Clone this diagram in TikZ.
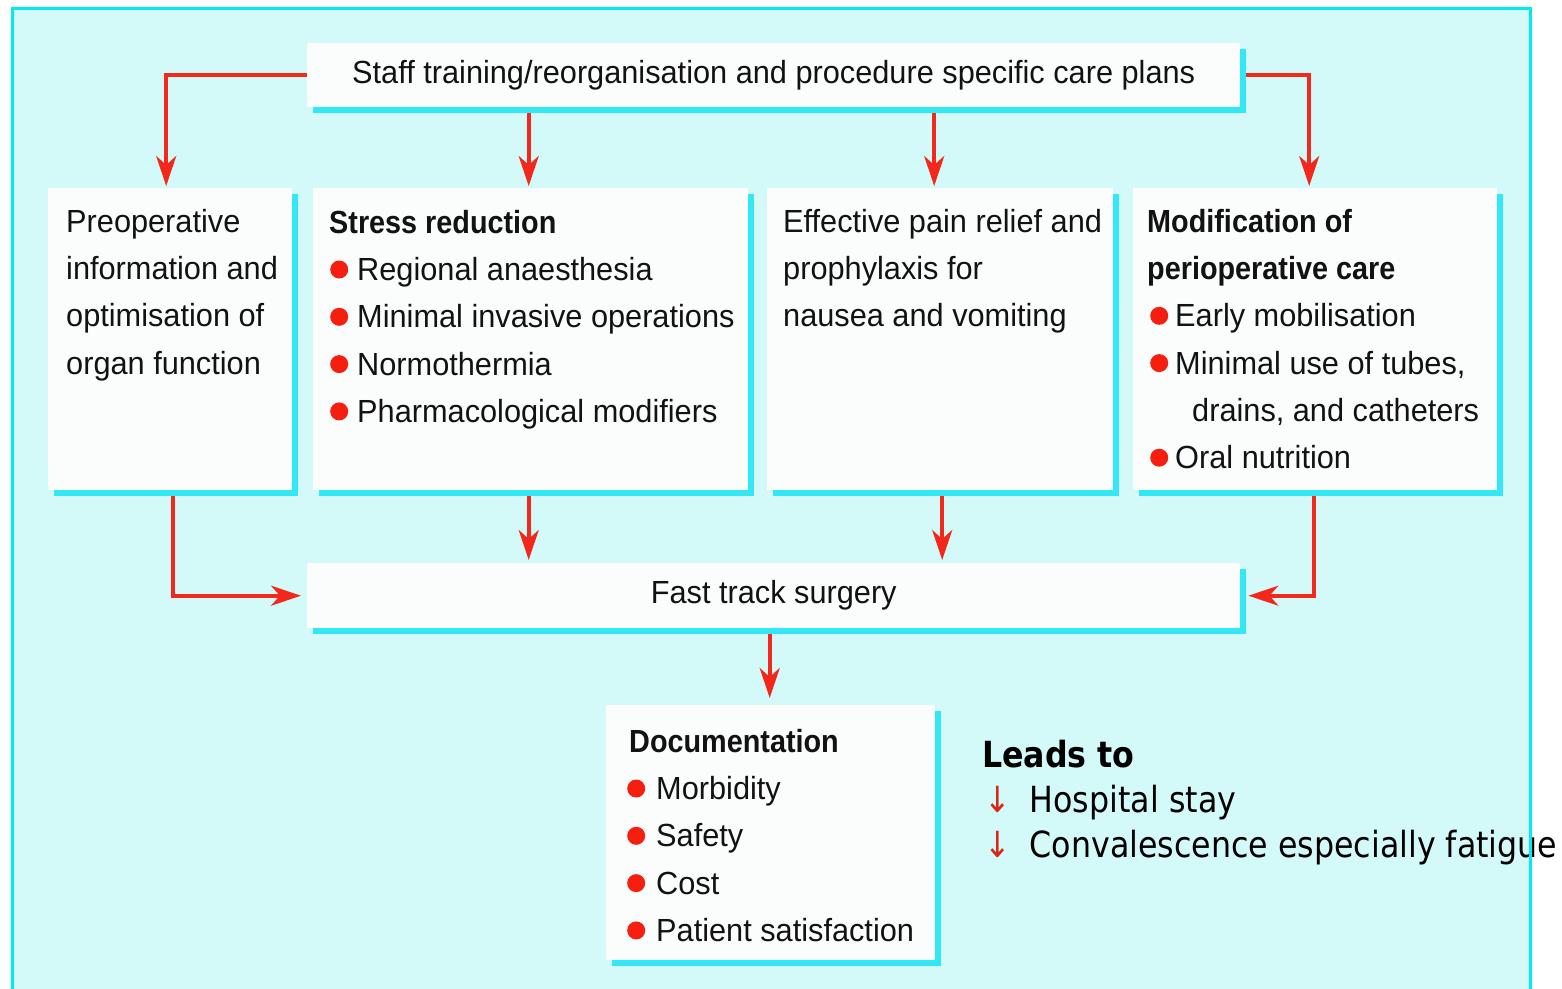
\documentclass[tikz,border=0pt]{standalone}
\usepackage{fontspec}
\setmainfont{Liberation Sans}[FakeStretch=0.96]
\newfontfamily\headfont{Liberation Sans}[FakeStretch=0.9]
\newfontfamily\notefont{DejaVu Sans}[FakeStretch=0.88]
\usetikzlibrary{arrows.meta,shadows}

\pgfdeclarelayer{back}
\pgfdeclarelayer{wires}
\pgfsetlayers{back,wires,main}

\definecolor{panelfill}{RGB}{211,249,249}
\definecolor{panelline}{RGB}{0,236,240}
\definecolor{boxfill}{RGB}{251,253,252}
\definecolor{shadowc}{RGB}{50,232,244}
\definecolor{flowred}{RGB}{242,40,28}
\definecolor{dotred}{RGB}{245,30,15}
\definecolor{downred}{RGB}{215,40,20}
\definecolor{inkc}{RGB}{18,18,18}

% red round bullet followed by a fixed gap
\newcommand\bul[1][27pt]{\makebox[#1][l]{\tikz[baseline={(0pt,-11pt)}]\fill[dotred] (0pt,0pt) circle (9pt);}}
% strut fixing the first baseline 34pt below the top of a text block
\newcommand\fst{\rule{0pt}{34pt}}

\begin{document}
\begin{tikzpicture}[x=1pt,y=-1pt,
  box/.style={rectangle, fill=boxfill, draw=none, inner sep=0pt, anchor=north west,
    general shadow={fill=shadowc, shadow xshift=6pt, shadow yshift=-6pt}},
  bar/.style={box, text=inkc, font=\fontsize{32}{47.3}\selectfont},
  txt/.style={inner sep=0pt, anchor=north west, align=left, text=inkc,
    font=\fontsize{32}{47.3}\selectfont},
  note/.style={inner sep=0pt, anchor=north west, align=left, text=black,
    font=\notefont\fontsize{36}{45}\selectfont},
  arr/.style={draw=flowred, line width=3.6pt,
    -{Stealth[length=30pt,width=20pt,inset=9pt]}, shorten >=2pt}]

\useasboundingbox (0,0) rectangle (1562,988);
\clip (0,0) rectangle (1562,988);

\begin{pgfonlayer}{back}
  \fill[white] (0,0) rectangle (1562,988);
  \fill[panelfill] (12,8) rectangle (1530,1000);
\end{pgfonlayer}

% boxes
\node[bar, minimum width=933pt, minimum height=64pt] (top) at (307,43)
  {\raisebox{-3pt}{Staff training/reorganisation and procedure specific care plans}};
\node[box, minimum width=244pt, minimum height=302pt] (pre) at (48,188) {};
\node[box, minimum width=435pt, minimum height=302pt] (stress) at (313,188) {};
\node[box, minimum width=346pt, minimum height=302pt] (pain) at (767,188) {};
\node[box, minimum width=364pt, minimum height=302pt] (modif) at (1133,188) {};
\node[bar, minimum width=933pt, minimum height=65pt] (fast) at (307,563)
  {\raisebox{-3pt}{Fast track surgery}};
\node[box, minimum width=329pt, minimum height=255pt] (doc) at (606,705) {};

% box contents
\node[txt] (pre-t) at (66,198)
  {\fst Preoperative\\information and\\optimisation of\\organ function};
\node[txt] (stress-t) at (329,199)
  {\fst{\headfont\bfseries Stress reduction}\\
   \hspace*{1pt}\bul Regional anaesthesia\\
   \hspace*{1pt}\bul Minimal invasive operations\\
   \hspace*{1pt}\bul Normothermia\\
   \hspace*{1pt}\bul Pharmacological modifiers};
\node[txt] (pain-t) at (783,198)
  {\fst Effective pain relief and\\prophylaxis for\\nausea and vomiting};
\node[txt] (modif-t) at (1147,198)
  {\fst{\headfont\bfseries Modification of}\\
   {\headfont\bfseries perioperative care}\\
   \hspace*{3pt}\bul[25pt]Early mobilisation\\
   \hspace*{3pt}\bul[25pt]Minimal use of tubes,\\
   \hspace*{45pt}drains, and catheters\\
   \hspace*{3pt}\bul[25pt]Oral nutrition};
\node[txt] (doc-t) at (629,718)
  {\fst{\headfont\bfseries Documentation}\\
   \hspace*{-2pt}\bul[29pt]Morbidity\\
   \hspace*{-2pt}\bul[29pt]Safety\\
   \hspace*{-2pt}\bul[29pt]Cost\\
   \hspace*{-2pt}\bul[29pt]Patient satisfaction};

% outcome note
\node[note] (leads) at (982,733)
  {\fst{\bfseries Leads to}\\
   \hspace*{2pt}\textcolor{downred}{↓}\hspace{19pt}Hospital stay\\
   \hspace*{2pt}\textcolor{downred}{↓}\hspace{19pt}Convalescence especially fatigue};

% connectors
\begin{pgfonlayer}{wires}
  \draw[arr] (top.west) -| ([xshift=-4pt]pre.north);
  \draw[arr] ([xshift=-2pt]stress.north |- top.south) -- ([xshift=-2pt]stress.north);
  \draw[arr] ([xshift=-6pt]pain.north |- top.south) -- ([xshift=-6pt]pain.north);
  \draw[arr] (top.east) -| ([xshift=-6pt]modif.north);
  \draw[arr, shorten >=6pt] ([xshift=3pt]pre.south) |- (fast.west);
  \draw[arr, shorten >=3pt] ([xshift=-2pt]stress.south) -- ([xshift=-2pt]stress.south |- fast.north);
  \draw[arr, shorten >=3pt] ([xshift=2pt]pain.south) -- ([xshift=2pt]pain.south |- fast.north);
  \draw[arr, shorten >=8pt] ([xshift=-1pt]modif.south) |- (fast.east);
  \draw[arr, shorten >=7pt] ([xshift=-1pt]doc.north |- fast.south) -- ([xshift=-1pt]doc.north);
\end{pgfonlayer}

% panel frame, open at the bottom
\draw[panelline, line width=3pt] (12,1000) -- (12,8) -- (1530,8) -- (1530,1000);
\end{tikzpicture}
\end{document}
